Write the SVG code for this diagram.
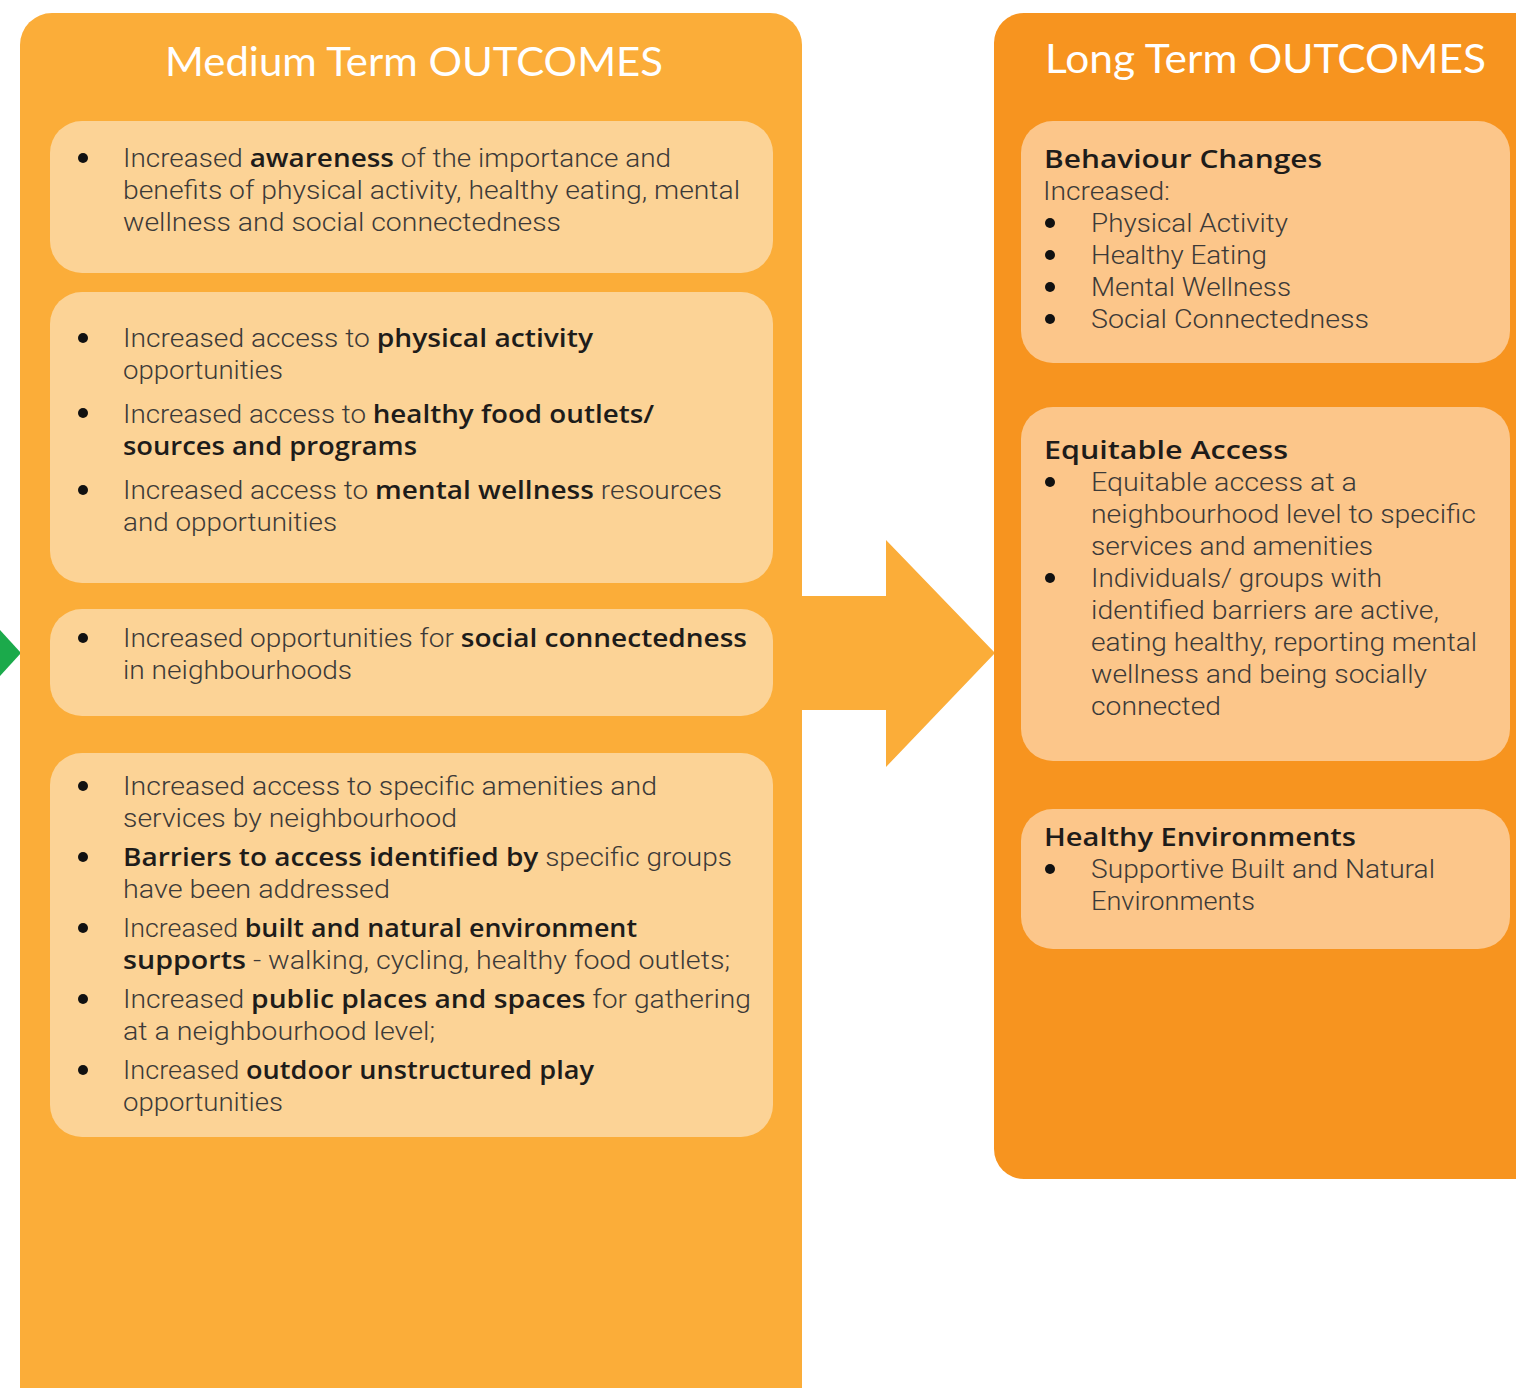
<svg xmlns="http://www.w3.org/2000/svg" width="1516" height="1388" viewBox="0 0 1516 1388">
<style>
.panelM{fill:#FBAD39}
.panelL{fill:#F7941F}
.boxM{fill:#FCD396}
.boxL{fill:#FCC68A}
.title{font-family:Lato,"Open Sans","Liberation Sans",sans-serif;font-size:40px;fill:#FFFFFF}
.t{font-family:Roboto,"Liberation Sans",sans-serif;font-weight:300;font-size:26px;fill:#3C3A38}
.b{font-family:"Open Sans","Liberation Sans",sans-serif;font-weight:600;fill:#1E1C1A}
.h{font-family:"Open Sans","Liberation Sans",sans-serif;font-weight:600;font-size:26px;fill:#1E1C1A}
.dot{fill:#111111}
</style>
<rect width="1516" height="1388" fill="#FFFFFF"/>
<g id="connectors">
<polygon points="802,596 886,596 886,540 995,653 886,767 886,710 802,710" fill="#FBAD39"/>
<polygon points="0,630 21,653 0,676" fill="#1BAA4B"/>
</g>
<g id="medium-term">
<rect class="panelM" x="20" y="13" width="782" height="1420" rx="32"/>
<text class="title" x="165" y="76" textLength="498" lengthAdjust="spacingAndGlyphs">Medium Term OUTCOMES</text>
</g>
<g id="m1">
<rect class="boxM" x="50" y="121" width="723" height="152" rx="32"/>
<circle class="dot" cx="83" cy="158" r="5"/>
<text class="t" x="123" y="167" textLength="548" lengthAdjust="spacingAndGlyphs">Increased <tspan class="b">awareness</tspan> of the importance and</text>
<text class="t" x="123" y="199" textLength="617" lengthAdjust="spacingAndGlyphs">benefits of physical activity, healthy eating, mental</text>
<text class="t" x="123" y="231" textLength="438" lengthAdjust="spacingAndGlyphs">wellness and social connectedness</text>
</g>
<g id="m2">
<rect class="boxM" x="50" y="292" width="723" height="291" rx="32"/>
<circle class="dot" cx="83" cy="338" r="5"/>
<text class="t" x="123" y="347" textLength="470" lengthAdjust="spacingAndGlyphs">Increased access to <tspan class="b">physical activity</tspan></text>
<text class="t" x="123" y="379" textLength="160" lengthAdjust="spacingAndGlyphs">opportunities</text>
<circle class="dot" cx="83" cy="413" r="5"/>
<text class="t" x="123" y="423" textLength="531" lengthAdjust="spacingAndGlyphs">Increased access to <tspan class="b">healthy food outlets/</tspan></text>
<text class="t b" x="123" y="455" textLength="294" lengthAdjust="spacingAndGlyphs">sources and programs</text>
<circle class="dot" cx="83" cy="490" r="5"/>
<text class="t" x="123" y="499" textLength="599" lengthAdjust="spacingAndGlyphs">Increased access to <tspan class="b">mental wellness</tspan> resources</text>
<text class="t" x="123" y="531" textLength="214" lengthAdjust="spacingAndGlyphs">and opportunities</text>
</g>
<g id="m3">
<rect class="boxM" x="50" y="609" width="723" height="107" rx="32"/>
<circle class="dot" cx="83" cy="638" r="5"/>
<text class="t" x="123" y="647" textLength="624" lengthAdjust="spacingAndGlyphs">Increased opportunities for <tspan class="b">social connectedness</tspan></text>
<text class="t" x="123" y="679" textLength="229" lengthAdjust="spacingAndGlyphs">in neighbourhoods</text>
</g>
<g id="m4">
<rect class="boxM" x="50" y="753" width="723" height="384" rx="32"/>
<circle class="dot" cx="83" cy="786" r="5"/>
<text class="t" x="123" y="795" textLength="534" lengthAdjust="spacingAndGlyphs">Increased access to specific amenities and</text>
<text class="t" x="123" y="827" textLength="334" lengthAdjust="spacingAndGlyphs">services by neighbourhood</text>
<circle class="dot" cx="83" cy="857" r="5"/>
<text class="t" x="123" y="866" textLength="609" lengthAdjust="spacingAndGlyphs"><tspan class="b">Barriers to access identified by</tspan> specific groups</text>
<text class="t" x="123" y="898" textLength="267" lengthAdjust="spacingAndGlyphs">have been addressed</text>
<circle class="dot" cx="83" cy="928" r="5"/>
<text class="t" x="123" y="937" textLength="514" lengthAdjust="spacingAndGlyphs">Increased <tspan class="b">built and natural environment</tspan></text>
<text class="t" x="123" y="969" textLength="607" lengthAdjust="spacingAndGlyphs"><tspan class="b">supports</tspan> - walking, cycling, healthy food outlets;</text>
<circle class="dot" cx="83" cy="999" r="5"/>
<text class="t" x="123" y="1008" textLength="628" lengthAdjust="spacingAndGlyphs">Increased <tspan class="b">public places and spaces</tspan> for gathering</text>
<text class="t" x="123" y="1040" textLength="312" lengthAdjust="spacingAndGlyphs">at a neighbourhood level;</text>
<circle class="dot" cx="83" cy="1070" r="5"/>
<text class="t" x="123" y="1079" textLength="471" lengthAdjust="spacingAndGlyphs">Increased <tspan class="b">outdoor unstructured play</tspan></text>
<text class="t" x="123" y="1111" textLength="160" lengthAdjust="spacingAndGlyphs">opportunities</text>
</g>
<g id="long-term">
<rect class="panelL" x="994" y="13" width="580" height="1166" rx="30"/>
<text class="title" x="1045" y="73" textLength="441" lengthAdjust="spacingAndGlyphs">Long Term OUTCOMES</text>
</g>
<g id="l1">
<rect class="boxL" x="1021" y="121" width="489" height="242" rx="32"/>
<text class="h" x="1044" y="168" textLength="278" lengthAdjust="spacingAndGlyphs">Behaviour Changes</text>
<text class="t" x="1043" y="200" textLength="127" lengthAdjust="spacingAndGlyphs">Increased:</text>
<circle class="dot" cx="1050" cy="223" r="5"/>
<text class="t" x="1091" y="232" textLength="197" lengthAdjust="spacingAndGlyphs">Physical Activity</text>
<circle class="dot" cx="1050" cy="255" r="5"/>
<text class="t" x="1091" y="264" textLength="176" lengthAdjust="spacingAndGlyphs">Healthy Eating</text>
<circle class="dot" cx="1050" cy="287" r="5"/>
<text class="t" x="1091" y="296" textLength="200" lengthAdjust="spacingAndGlyphs">Mental Wellness</text>
<circle class="dot" cx="1050" cy="319" r="5"/>
<text class="t" x="1091" y="328" textLength="278" lengthAdjust="spacingAndGlyphs">Social Connectedness</text>
</g>
<g id="l2">
<rect class="boxL" x="1021" y="407" width="489" height="354" rx="32"/>
<text class="h" x="1044" y="459" textLength="244" lengthAdjust="spacingAndGlyphs">Equitable Access</text>
<circle class="dot" cx="1050" cy="482" r="5"/>
<text class="t" x="1091" y="491" textLength="266" lengthAdjust="spacingAndGlyphs">Equitable access at a</text>
<text class="t" x="1091" y="523" textLength="385" lengthAdjust="spacingAndGlyphs">neighbourhood level to specific</text>
<text class="t" x="1091" y="555" textLength="282" lengthAdjust="spacingAndGlyphs">services and amenities</text>
<circle class="dot" cx="1050" cy="578" r="5"/>
<text class="t" x="1091" y="587" textLength="291" lengthAdjust="spacingAndGlyphs">Individuals/ groups with</text>
<text class="t" x="1091" y="619" textLength="348" lengthAdjust="spacingAndGlyphs">identified barriers are active,</text>
<text class="t" x="1091" y="651" textLength="386" lengthAdjust="spacingAndGlyphs">eating healthy, reporting mental</text>
<text class="t" x="1091" y="683" textLength="336" lengthAdjust="spacingAndGlyphs">wellness and being socially</text>
<text class="t" x="1091" y="715" textLength="130" lengthAdjust="spacingAndGlyphs">connected</text>
</g>
<g id="l3">
<rect class="boxL" x="1021" y="809" width="489" height="140" rx="32"/>
<text class="h" x="1044" y="846" textLength="312" lengthAdjust="spacingAndGlyphs">Healthy Environments</text>
<circle class="dot" cx="1050" cy="869" r="5"/>
<text class="t" x="1091" y="878" textLength="344" lengthAdjust="spacingAndGlyphs">Supportive Built and Natural</text>
<text class="t" x="1091" y="910" textLength="164" lengthAdjust="spacingAndGlyphs">Environments</text>
</g>
</svg>
